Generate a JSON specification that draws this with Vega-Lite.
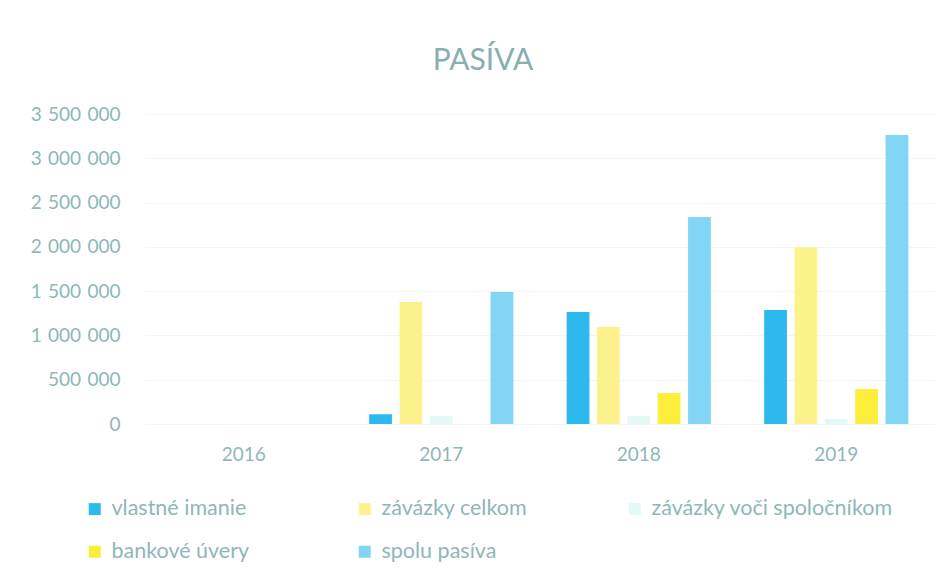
{
  "$schema": "https://vega.github.io/schema/vega-lite/v6.json",
  "width": 790,
  "height": 310,
  "autosize": {"type": "none"},
  "padding": {"left": 145, "top": 114, "right": 15, "bottom": 153},
  "background": "white",
  "title": {
    "text": "PASÍVA",
    "fontSize": 30,
    "font": "Lato",
    "fontWeight": "normal",
    "color": "#86AFAF",
    "anchor": "middle",
    "dx": -57,
    "offset": 29
  },
  "config": {
    "font": "Lato",
    "view": {"stroke": null},
    "axis": {"labelColor": "#8DB7B7", "labelFont": "Lato"},
    "legend": {"labelColor": "#8DB7B7", "labelFont": "Lato"}
  },
  "data": {
    "values": [
      {"rok": "2016", "polozka": "vlastné imanie", "hodnota": 0},
      {"rok": "2016", "polozka": "závázky celkom", "hodnota": 0},
      {"rok": "2016", "polozka": "závázky voči spoločníkom", "hodnota": 0},
      {"rok": "2016", "polozka": "bankové úvery", "hodnota": 0},
      {"rok": "2016", "polozka": "spolu pasíva", "hodnota": 0},
      {"rok": "2017", "polozka": "vlastné imanie", "hodnota": 110000},
      {"rok": "2017", "polozka": "závázky celkom", "hodnota": 1378000},
      {"rok": "2017", "polozka": "závázky voči spoločníkom", "hodnota": 88000},
      {"rok": "2017", "polozka": "bankové úvery", "hodnota": 0},
      {"rok": "2017", "polozka": "spolu pasíva", "hodnota": 1490000},
      {"rok": "2018", "polozka": "vlastné imanie", "hodnota": 1265000},
      {"rok": "2018", "polozka": "závázky celkom", "hodnota": 1095000},
      {"rok": "2018", "polozka": "závázky voči spoločníkom", "hodnota": 88000},
      {"rok": "2018", "polozka": "bankové úvery", "hodnota": 350000},
      {"rok": "2018", "polozka": "spolu pasíva", "hodnota": 2337000},
      {"rok": "2019", "polozka": "vlastné imanie", "hodnota": 1287000},
      {"rok": "2019", "polozka": "závázky celkom", "hodnota": 1995000},
      {"rok": "2019", "polozka": "závázky voči spoločníkom", "hodnota": 55000},
      {"rok": "2019", "polozka": "bankové úvery", "hodnota": 395000},
      {"rok": "2019", "polozka": "spolu pasíva", "hodnota": 3263000}
    ]
  },
  "mark": {"type": "bar"},
  "encoding": {
    "x": {
      "field": "rok",
      "type": "nominal",
      "scale": {"paddingInner": 0.27, "paddingOuter": 0.135},
      "axis": {
        "title": null,
        "labelAngle": 0,
        "labelFontSize": 19,
        "labelPadding": 21,
        "ticks": false,
        "domain": false
      }
    },
    "xOffset": {
      "field": "polozka",
      "type": "nominal",
      "sort": ["vlastné imanie", "závázky celkom", "závázky voči spoločníkom", "bankové úvery", "spolu pasíva"],
      "scale": {"paddingInner": 0.25, "paddingOuter": 0}
    },
    "y": {
      "field": "hodnota",
      "type": "quantitative",
      "scale": {"domain": [0, 3500000], "nice": false},
      "axis": {
        "title": null,
        "values": [0, 500000, 1000000, 1500000, 2000000, 2500000, 3000000, 3500000],
        "labelExpr": "replace(format(datum.value, ','), regexp(',', 'g'), '\u2004')",
        "labelFontSize": 19,
        "labelPadding": 25,
        "ticks": false,
        "domain": false,
        "gridColor": "#EEF6F6",
        "gridWidth": 1
      }
    },
    "color": {
      "field": "polozka",
      "type": "nominal",
      "sort": ["vlastné imanie", "závázky celkom", "závázky voči spoločníkom", "bankové úvery", "spolu pasíva"],
      "scale": {
        "domain": ["vlastné imanie", "závázky celkom", "závázky voči spoločníkom", "bankové úvery", "spolu pasíva"],
        "range": ["#2DB8EE", "#FCF28C", "#E2F9F5", "#FCEE3A", "#82D5F4"]
      },
      "legend": {
        "title": null,
        "orient": "none",
        "legendX": -61,
        "legendY": 384,
        "direction": "horizontal",
        "columns": 3,
        "gridAlign": "all",
        "columnPadding": 0,
        "rowPadding": 20,
        "symbolType": "square",
        "symbolSize": 144,
        "labelFontSize": 21.5,
        "labelOffset": 6,
        "labelLimit": 400
      }
    }
  }
}
